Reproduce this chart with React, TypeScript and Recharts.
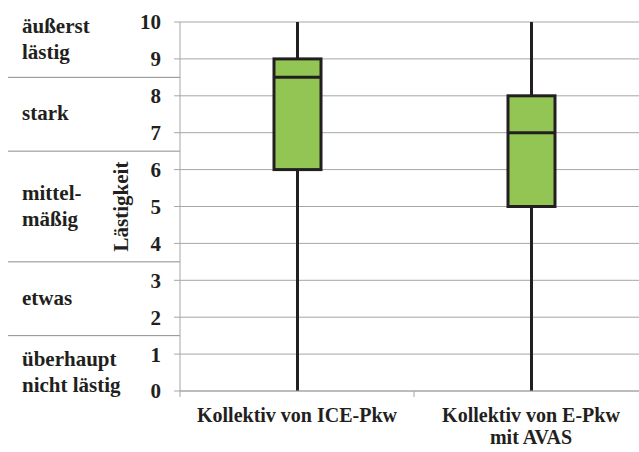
import React from 'react';
import { ComposedChart, Bar, XAxis, YAxis, CartesianGrid, ReferenceLine } from 'recharts';

const categories = ['Kollektiv von ICE-Pkw', 'Kollektiv von E-Pkw\nmit AVAS'];
const minValues = [0, 0];
const q1Values = [6, 5];
const medianValues = [8.5, 7];
const q3Values = [9, 8];
const maxValues = [10, 10];
const yTicks = [0, 1, 2, 3, 4, 5, 6, 7, 8, 9, 10];

// verbal scale on the left
const levelLabels = ['äußerst\nlästig', 'stark', 'mittel-\nmäßig', 'etwas', 'überhaupt\nnicht lästig'];
const levelCenters = [9.5, 7.5, 5, 2.5, 0.5];
const levelBounds = [8.5, 6.5, 3.5, 1.5];

const FONT = "Liberation Serif, DejaVu Serif, serif";
const INK = '#231f20';
const GRID = '#a6a6a6';

const data = categories.map((name, i) => ({
  name,
  range: [minValues[i], maxValues[i]],
  min: minValues[i],
  q1: q1Values[i],
  median: medianValues[i],
  q3: q3Values[i],
  max: maxValues[i],
}));

const BoxShape = (props: any) => {
  const { x, y, width, height, payload } = props;
  const { min, q1, median, q3, max } = payload;
  const k = height / (max - min);
  const py = (v: number) => y + (max - v) * k;
  const cx = x + width / 2;
  return (
    <g>
      <line x1={cx} x2={cx} y1={py(max)} y2={py(q3)} stroke={INK} strokeWidth={3} />
      <line x1={cx} x2={cx} y1={py(q1)} y2={py(min)} stroke={INK} strokeWidth={3} />
      <rect x={x} y={py(q3)} width={width} height={py(q1) - py(q3)} fill="#92c554" stroke={INK} strokeWidth={3} />
      <line x1={x} x2={x + width} y1={py(median)} y2={py(median)} stroke={INK} strokeWidth={3} />
    </g>
  );
};

const CategoryTick = (props: any) => {
  const { x, y, payload, index } = props;
  const half = payload.offset || 117;
  const lines = String(payload.value).split('\n');
  return (
    <g>
      <line x1={x - half} x2={x - half} y1={y} y2={y + 6} stroke={GRID} />
      {index === categories.length - 1 && (
        <line x1={x + half} x2={x + half} y1={y} y2={y + 6} stroke={GRID} />
      )}
      <text x={x} y={y + 31} textAnchor="middle" fontFamily={FONT} fontWeight="bold" fontSize={20} fill={INK}>
        {lines.map((l, i) => (
          <tspan key={i} x={x} dy={i === 0 ? 0 : 22}>{l}</tspan>
        ))}
      </text>
    </g>
  );
};

const BoundLine = (props: any) => {
  const { y1 } = props;
  return <line x1={8} x2={180} y1={y1} y2={y1} stroke="#8c8c8c" strokeWidth={1} />;
};

const makeLevelLabel = (label: string) => (props: any) => {
  const { y1 } = props;
  const lines = label.split('\n');
  const start = y1 + 6 - ((lines.length - 1) / 2) * 26;
  return (
    <text x={22} y={start} fontFamily={FONT} fontWeight="bold" fontSize={21} fill={INK}>
      {lines.map((l, i) => (
        <tspan key={i} x={22} dy={i === 0 ? 0 : 26}>{l}</tspan>
      ))}
    </text>
  );
};

const YLabel = (props: any) => {
  const { viewBox } = props;
  const cx = 121;
  const cy = viewBox.y + viewBox.height / 2;
  return (
    <text
      x={cx}
      y={cy}
      transform={`rotate(-90, ${cx}, ${cy})`}
      textAnchor="middle"
      dominantBaseline="central"
      fontFamily={FONT}
      fontWeight="bold"
      fontSize={21}
      fill={INK}
    >
      Lästigkeit
    </text>
  );
};

export default function App() {
  return (
    <div style={{ position: 'absolute', left: 0, top: 0, width: 639, height: 452, overflow: 'hidden', background: '#fff', fontFamily: FONT }}>
      <ComposedChart width={648} height={452} data={data} margin={{ top: 22, right: 0, bottom: 0, left: 0 }}>
        <CartesianGrid vertical={false} stroke={GRID} />
        <XAxis
          dataKey="name"
          height={61}
          axisLine={{ stroke: GRID }}
          tickLine={false}
          tickSize={0}
          tickMargin={0}
          interval={0}
          tick={<CategoryTick />}
        />
        <YAxis
          width={180}
          domain={[0, 10]}
          ticks={yTicks}
          interval={0}
          axisLine={{ stroke: GRID }}
          tickLine={{ stroke: GRID }}
          tickSize={6}
          tickMargin={13}
          tick={{ fontFamily: FONT, fontWeight: 'bold', fontSize: 21, fill: INK }}
          label={<YLabel />}
        />
        {levelBounds.map((v) => (
          <ReferenceLine key={`b${v}`} y={v} shape={<BoundLine />} />
        ))}
        {levelLabels.map((l, i) => (
          <ReferenceLine key={`l${i}`} y={levelCenters[i]} shape={makeLevelLabel(l)} />
        ))}
        <Bar dataKey="range" barSize={47} shape={<BoxShape />} isAnimationActive={false} />
      </ComposedChart>
    </div>
  );
}
